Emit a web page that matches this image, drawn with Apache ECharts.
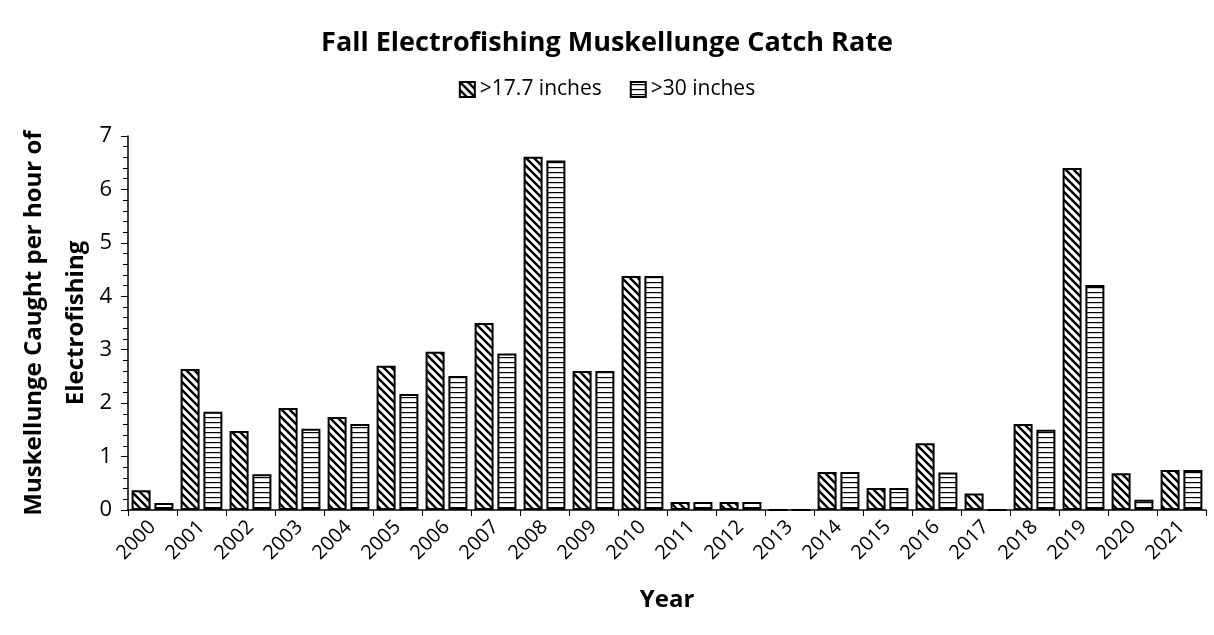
<!DOCTYPE html>
<html>
<head>
<meta charset="utf-8">
<script src="https://cdn.jsdelivr.net/npm/echarts@6/dist/echarts.min.js"></script>
<style>
  html, body { margin: 0; padding: 0; background: #fff; }
  #chart { width: 1214px; height: 635px; }
</style>
</head>
<body>
<div id="chart"></div>
<script>
const years = ["2000", "2001", "2002", "2003", "2004", "2005", "2006", "2007", "2008", "2009", "2010",
  "2011", "2012", "2013", "2014", "2015", "2016", "2017", "2018", "2019", "2020", "2021"];
const over177 = [0.37, 2.64, 1.48, 1.91, 1.74, 2.70, 2.96, 3.50, 6.61, 2.60, 4.38,
  0.15, 0.15, 0, 0.71, 0.41, 1.25, 0.31, 1.61, 6.40, 0.69, 0.75];
const over30 = [0.13, 1.84, 0.67, 1.52, 1.61, 2.17, 2.51, 2.93, 6.54, 2.60, 4.38,
  0.15, 0.15, 0, 0.71, 0.41, 0.70, 0, 1.50, 4.21, 0.19, 0.75];
const seriesNames = [">17.7 inches", ">30 inches"];

const font = "'Open Sans', 'Liberation Sans', sans-serif";

// hatch fills drawn on small canvases
function diagPattern() {
  const c = document.createElement("canvas");
  c.width = 8; c.height = 8;
  const ctx = c.getContext("2d");
  ctx.fillStyle = "#fff";
  ctx.fillRect(0, 0, 8, 8);
  ctx.strokeStyle = "#000";
  ctx.lineWidth = 2.4;
  ctx.beginPath();
  ctx.moveTo(-2, -2); ctx.lineTo(10, 10);
  ctx.moveTo(-10, -2); ctx.lineTo(2, 10);
  ctx.moveTo(6, -2); ctx.lineTo(18, 10);
  ctx.stroke();
  return c;
}
function horizPattern() {
  const c = document.createElement("canvas");
  c.width = 8; c.height = 5;
  const ctx = c.getContext("2d");
  ctx.fillStyle = "#fff";
  ctx.fillRect(0, 0, 8, 5);
  ctx.fillStyle = "#000";
  ctx.fillRect(0, 2, 8, 1.2);
  return c;
}

const chart = echarts.init(document.getElementById("chart"));
const option = {
  animation: false,
  textStyle: { fontFamily: font },
  title: {
    text: "Fall Electrofishing Muskellunge Catch Rate",
    left: "center",
    top: 25,
    textStyle: { fontFamily: font, fontSize: 27, fontWeight: "bold", color: "#000" }
  },
  legend: {
    top: 74,
    left: "center",
    icon: "rect",
    itemWidth: 15,
    itemHeight: 15,
    itemGap: 28,
    textStyle: { fontFamily: font, fontSize: 21, color: "#000" },
    data: seriesNames
  },
  grid: { left: 128, right: 8, top: 136, bottom: 125, outerBoundsMode: "none" },
  xAxis: {
    type: "category",
    data: years,
    name: "Year",
    nameLocation: "middle",
    nameGap: 78,
    nameTextStyle: { fontFamily: font, fontSize: 24, fontWeight: "bold", color: "#000" },
    axisLine: { lineStyle: { color: "#000", width: 1.5 } },
    axisTick: { show: true, length: 6, lineStyle: { color: "#000" } },
    axisLabel: { rotate: 45, fontSize: 20, color: "#000", margin: 14, interval: 0 }
  },
  yAxis: {
    type: "value",
    min: 0,
    max: 7,
    interval: 1,
    name: "Muskellunge Caught per hour of\nElectrofishing",
    nameLocation: "middle",
    nameGap: 40,
    nameTextStyle: { fontFamily: font, fontSize: 24, fontWeight: "bold", color: "#000", lineHeight: 42, padding: [0, 0, -10, 0] },
    axisLine: { show: true, lineStyle: { color: "#000", width: 1.5 } },
    axisTick: { show: true, length: 7, lineStyle: { color: "#000" } },
    minorTick: { show: true, splitNumber: 5, length: 5, lineStyle: { color: "#000" } },
    splitLine: { show: false },
    axisLabel: { fontSize: 22, color: "#000", margin: 16 }
  },
  series: [
    {
      name: seriesNames[0],
      type: "bar",
      data: over177,
      barWidth: 19,
      barGap: "20%",
      itemStyle: { color: { image: diagPattern(), repeat: "repeat" }, borderColor: "#000", borderWidth: 2 }
    },
    {
      name: seriesNames[1],
      type: "bar",
      data: over30,
      barWidth: 19,
      itemStyle: { color: { image: horizPattern(), repeat: "repeat" }, borderColor: "#000", borderWidth: 2 }
    }
  ]
};
chart.setOption(option);
</script>
</body>
</html>
